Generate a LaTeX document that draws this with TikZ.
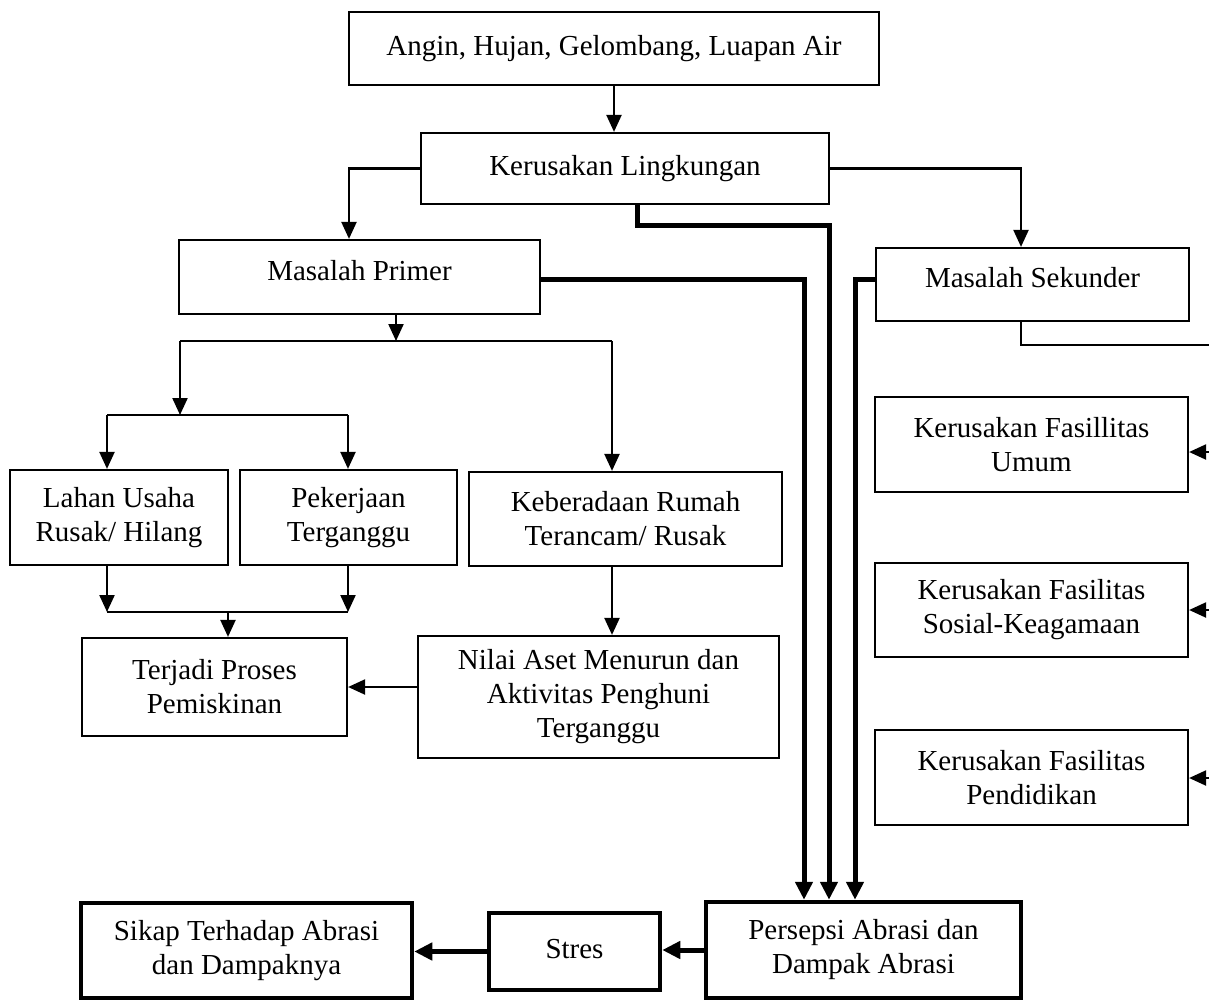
\documentclass[tikz,border=0pt]{standalone}
\usepackage{fontspec}
\setmainfont{Liberation Serif}
\usetikzlibrary{arrows.meta}
\begin{document}
\begin{tikzpicture}[x=1pt,y=-1pt,
  box/.style={draw, line width=2.2pt, align=center, inner sep=0pt,
    font=\fontsize{29}{34}\selectfont},
  boldbox/.style={box, line width=4.5pt},
  link/.style={line width=2.2pt, -{Triangle[length=17pt,width=15pt]}},
  plain/.style={line width=2.2pt},
  heavy/.style={line width=5pt, -{Triangle[length=18pt,width=17pt]}},
]
\useasboundingbox (0,0) rectangle (1209,1001);
\fill[white] (0,0) rectangle (1209,1001);

% ---- boxes ----
\node[box, minimum width=530pt, minimum height=73pt] (hazard) at (614,48.5)
  {\raisebox{6pt}{Angin, Hujan, Gelombang, Luapan Air}};
\node[box, minimum width=408pt, minimum height=71pt] (kerusakan) at (625,168.5)
  {\raisebox{6pt}{Kerusakan Lingkungan}};
\node[box, minimum width=361pt, minimum height=74pt] (primer) at (359.5,277)
  {\raisebox{14pt}{Masalah Primer}};
\node[box, minimum width=313pt, minimum height=73pt] (sekunder) at (1032.5,284.5)
  {\raisebox{14pt}{Masalah Sekunder}};
\node[box, minimum width=313pt, minimum height=95pt] (umum) at (1031.5,444.5)
  {Kerusakan Fasillitas\\Umum};
\node[box, minimum width=313pt, minimum height=94pt] (sosial) at (1031.5,610)
  {Kerusakan Fasilitas\\Sosial-Keagamaan};
\node[box, minimum width=313pt, minimum height=95pt] (pendidikan) at (1031.5,777.5)
  {Kerusakan Fasilitas\\Pendidikan};
\node[box, minimum width=218pt, minimum height=95pt] (lahan) at (119,517.5)
  {Lahan Usaha\\Rusak/ Hilang};
\node[box, minimum width=217pt, minimum height=95pt] (pekerjaan) at (348.5,517.5)
  {Pekerjaan\\Terganggu};
\node[box, minimum width=313pt, minimum height=94pt] (keberadaan) at (625.5,519)
  {Keberadaan Rumah\\Terancam/ Rusak};
\node[box, minimum width=265pt, minimum height=98pt] (terjadi) at (214.5,687)
  {Terjadi Proses\\Pemiskinan};
\node[box, minimum width=361pt, minimum height=122pt] (nilai) at (598.5,697)
  {Nilai Aset Menurun dan\\Aktivitas Penghuni\\Terganggu};
\node[boldbox, minimum width=331pt, minimum height=95pt] (sikap) at (246.5,950.5)
  {Sikap Terhadap Abrasi\\dan Dampaknya};
\node[boldbox, minimum width=171pt, minimum height=77pt] (stres) at (574.5,951.5)
  {\raisebox{6pt}{Stres}};
\node[boldbox, minimum width=315pt, minimum height=96pt] (persepsi) at (863.5,950)
  {Persepsi Abrasi dan\\Dampak Abrasi};

% ---- junction points ----
\coordinate (jA) at (180,341);
\coordinate (jB) at (612,341);
\coordinate (jC) at (180,415);
\coordinate (jL) at (107,415);
\coordinate (jR) at (348,415);
\coordinate (mL) at (107,612);
\coordinate (mR) at (348,612);
\coordinate (mC) at (228,612);
\coordinate (edgeS) at (1209,345);
\coordinate (eU) at (1209,452);
\coordinate (eS) at (1209,610);
\coordinate (eP) at (1209,778);
\coordinate (tP) at (804,279);
\coordinate (tK1) at (637,225);
\coordinate (tK2) at (829,225);
\coordinate (tS) at (855,279);

% ---- thin connectors ----
\draw[link] (hazard.south) -- (hazard.south |- kerusakan.north);
\draw[link] (kerusakan.west) -| ([xshift=-10.5pt]primer.north);
\draw[link] (kerusakan.east) -| ([xshift=-11.5pt]sekunder.north);
\draw[link] ([xshift=36.5pt]primer.south) -- ([xshift=36.5pt]primer.south |- jA);
\draw[plain] (jA) -- (jB);
\draw[link] (jB) -- (jB |- keberadaan.north);
\draw[link] (jA) -- (jC);
\draw[plain] (jL) -- (jR);
\draw[link] (jL) -- (jL |- lahan.north);
\draw[link] (jR) -- (jR |- pekerjaan.north);
\draw[link] (lahan.south -| mL) -- (mL);
\draw[link] (pekerjaan.south -| mR) -- (mR);
\draw[plain] (mL) -- (mR);
\draw[link] (mC) -- (mC |- terjadi.north);
\draw[link] (keberadaan.south -| jB) -- (jB |- nilai.north);
\draw[link] (nilai.west |- terjadi.east) -- (terjadi.east);
\draw[plain] ([xshift=-11.5pt]sekunder.south) |- (edgeS);
\draw[link] (eU) -- (eU -| umum.east);
\draw[link] (eS) -- (eS -| sosial.east);
\draw[link] (eP) -- (eP -| pendidikan.east);

% ---- heavy connectors ----
\draw[heavy] (primer.east |- tP) -- (tP) -- (tP |- persepsi.north);
\draw[heavy] (kerusakan.south -| tK1) -- (tK1) -- (tK2) -- (tK2 |- persepsi.north);
\draw[heavy] (sekunder.west |- tS) -- (tS) -- (tS |- persepsi.north);
\draw[heavy] (persepsi.west) -- (persepsi.west -| stres.east);
\draw[heavy] (stres.west) -- (stres.west -| sikap.east);
\end{tikzpicture}
\end{document}
